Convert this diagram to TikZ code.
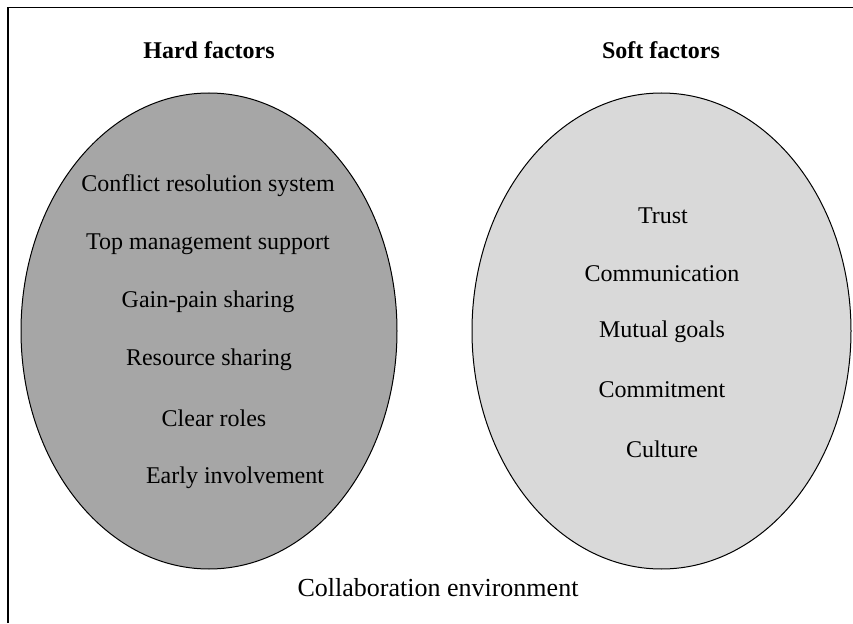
\documentclass[tikz,border=0pt]{standalone}
\usepackage{fontspec}
\setmainfont{Liberation Serif}
\usepackage{tikz}

\definecolor{hardgray}{RGB}{166,166,166}
\definecolor{softgray}{RGB}{217,217,217}

\tikzset{
  factor/.style={inner sep=1pt,font=\fontsize{12}{14}\selectfont},
  heading/.style={factor,font=\fontsize{12}{14}\selectfont\bfseries},
}

\begin{document}
\begin{tikzpicture}[x=0.5pt,y=0.5pt]
\useasboundingbox (0,0) rectangle (853,623);
% frame, only top and left edges show
\draw[line width=0.8pt] (8,0)--(8,615.5)--(853,615.5);
% the two sets of factors
\draw[fill=hardgray,line width=0.5pt] (209,292) ellipse [x radius=188,y radius=238];
\draw[fill=softgray,line width=0.5pt] (661.5,292) ellipse [x radius=189.5,y radius=238];
\node[heading] (hard) at (209,573) {Hard factors};
\node[heading] (soft) at (661,573) {Soft factors};
\node[factor] (h1) at (208,437) {Conflict resolution system};
\node[factor] (h2) at (208,379) {Top management support};
\node[factor] (h3) at (208,321) {Gain-pain sharing};
\node[factor] (h4) at (209,263) {Resource sharing};
\node[factor] (h5) at (214,205) {Clear roles};
\node[factor] (h6) at (235,145) {Early involvement};
\node[factor] (s1) at (663,407) {Trust};
\node[factor] (s2) at (662,349) {Communication};
\node[factor] (s3) at (662,291) {Mutual goals};
\node[factor] (s4) at (662,233) {Commitment};
\node[factor] (s5) at (662,174) {Culture};
\node[factor,font=\fontsize{13}{15}\selectfont] (env) at (438,35) {Collaboration environment};
\end{tikzpicture}
\end{document}
